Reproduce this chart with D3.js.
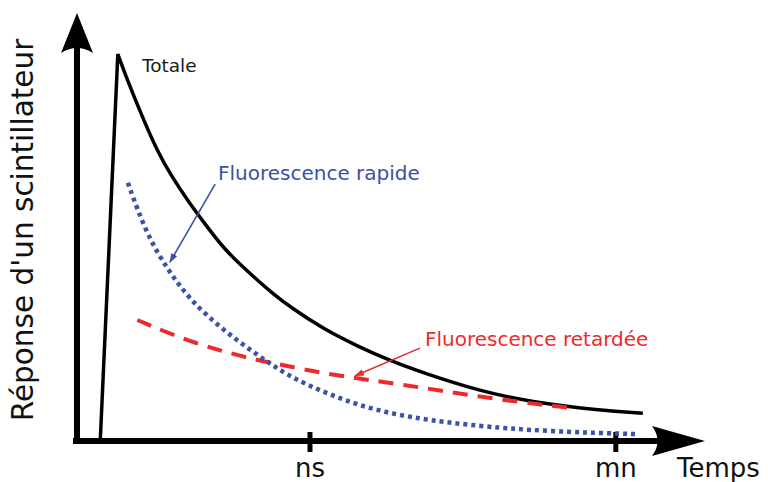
<!DOCTYPE html>
<html><head><meta charset="utf-8">
<script src="https://cdn.jsdelivr.net/npm/d3@7"></script>
<style>html,body{margin:0;padding:0;background:#fff;}svg{display:block;font-family:"DejaVu Sans",sans-serif;}</style>
</head><body><div id="chart"></div>
<script>
// Data (arbitrary units: time 0..100, response 0..100)
const totaleT = [3.7, 6.5, 8.4, 10.5, 12.7, 15.1, 17.7, 20.4, 23.2, 26.0, 28.7, 31.2, 33.9, 39.2, 44.6, 49.8, 55.1, 64.2, 72.1, 83.3, 90.1];
const totaleR = [0, 90.8, 83.3, 75.8, 68.3, 62.0, 56.3, 50.9, 45.5, 41.4, 37.8, 34.6, 31.5, 26.3, 22.3, 18.9, 16.0, 11.7, 9.2, 7.2, 6.5];
const rapideT = [8.1, 11.1, 14.5, 18.0, 23.2, 28.7, 33.9, 40.3, 47.1, 54.6, 61.0, 67.4, 72.1, 78.5, 83.3, 89.2];
const rapideR = [60.6, 48.4, 40.1, 33.1, 26.1, 20.2, 15.0, 10.8, 7.3, 5.2, 4.0, 3.1, 2.6, 2.1, 1.9, 1.6];
const retardT = [9.6, 18.0, 27.1, 31.2, 40.3, 51.4, 64.2, 76.9, 79.5];
const retardR = [28.4, 23.2, 19.5, 18.3, 15.5, 13.4, 10.3, 8.0, 7.7];
const tickValues = [37.1, 85.8];
const tickLabels = ["ns", "mn"];
const xTitle = "Temps";
const yTitle = "Réponse d'un scintillateur";
const labels = [
  {text: "Totale", t: 10.35, r: 86.6, cls: "tot"},
  {text: "Fluorescence rapide", t: 22.45, r: 61.3, cls: "rap"},
  {text: "Fluorescence retardée", t: 55.4, r: 22.3, cls: "ret"}
];
const pointers = [
  {t1: 22.0, r1: 60.3, t2: 14.8, r2: 42.0, cls: "rap"},
  {t1: 54.6, r1: 21.8, t2: 44.3, r2: 15.3, cls: "ret"}
];

const W = 768, H = 482;
const BLUE = "#3a52a8", BLUE_T = "#3c4fa6", RED = "#ec2a2c", BLACK = "#000";
const x = d3.scaleLinear().domain([0, 100]).range([77, 705]);
const y = d3.scaleLinear().domain([0, 100]).range([441, 15]);

const svg = d3.select("#chart").append("svg").attr("width", W).attr("height", H);
const defs = svg.append("defs");
[["rap", BLUE_T], ["ret", RED]].forEach(([id, c]) => {
  defs.append("marker").attr("id", "m-" + id).attr("viewBox", "0 0 10 10")
    .attr("refX", 9).attr("refY", 5).attr("markerWidth", 6).attr("markerHeight", 6)
    .attr("markerUnits", "strokeWidth").attr("orient", "auto")
    .append("path").attr("d", "M0,1.5L10,5L0,8.5Z").attr("fill", c);
});

// Axes
const xa = svg.append("g");
xa.append("line").attr("x1", x(0) - 4).attr("x2", x(100) - 12).attr("y1", y(0)).attr("y2", y(0))
  .attr("stroke", BLACK).attr("stroke-width", 6);
xa.append("path").attr("fill", BLACK)
  .attr("d", `M${x(100)},${y(0)} L${x(100) - 53},${y(0) - 15} Q${x(100) - 42},${y(0)} ${x(100) - 53},${y(0) + 15} Z`);
svg.append("line").attr("x1", x(0)).attr("x2", x(0)).attr("y1", y(0) + 3).attr("y2", y(100) + 30)
  .attr("stroke", BLACK).attr("stroke-width", 6);
svg.append("path").attr("fill", BLACK)
  .attr("d", `M${x(0)},${y(100) - 2} L${x(0) - 16},${y(100) + 38} Q${x(0)},${y(100) + 28} ${x(0) + 16},${y(100) + 38} Z`);

// ticks
const tg = svg.append("g").selectAll("g").data(tickValues).join("g")
  .attr("transform", d => `translate(${x(d)},${y(0)})`);
tg.append("line").attr("y1", -9).attr("y2", 11).attr("stroke", BLACK).attr("stroke-width", 5);
tg.append("text").attr("y", 36).attr("text-anchor", "middle").attr("font-size", 26)
  .attr("fill", "#111").text((d, i) => tickLabels[i]);

svg.append("text").attr("x", 677).attr("y", 477).attr("font-size", 26).attr("fill", "#111").text(xTitle);
svg.append("text").attr("transform", `translate(33,${y(50) + 2}) rotate(-90)`)
  .attr("text-anchor", "middle").attr("font-size", 29.5).attr("fill", "#111").text(yTitle);

// curves
const rise = d3.line().x(d => x(d[0])).y(d => y(d[1]));
const smooth = d3.line().x(d => x(d[0])).y(d => y(d[1])).curve(d3.curveBasis);
const tot = totaleT.map((t, i) => [t, totaleR[i]]);
const totPath = rise(tot.slice(0, 2)) + smooth(tot.slice(1)).replace(/^M/, "L");
svg.append("path").attr("d", totPath).attr("fill", "none").attr("stroke", BLACK)
  .attr("stroke-width", 3.5).attr("stroke-linejoin", "miter");

svg.append("path").attr("d", smooth(retardT.map((t, i) => [t, retardR[i]])))
  .attr("fill", "none").attr("stroke", RED).attr("stroke-width", 4).attr("stroke-dasharray", "15,10");
svg.append("path").attr("d", smooth(rapideT.map((t, i) => [t, rapideR[i]])))
  .attr("fill", "none").attr("stroke", BLUE).attr("stroke-width", 4.5).attr("stroke-dasharray", "4,4");

// pointers
svg.append("g").selectAll("line").data(pointers).join("line")
  .attr("x1", d => x(d.t1)).attr("y1", d => y(d.r1)).attr("x2", d => x(d.t2)).attr("y2", d => y(d.r2))
  .attr("stroke", d => d.cls === "rap" ? BLUE_T : RED).attr("stroke-width", 1.6)
  .attr("marker-end", d => `url(#m-${d.cls})`);

// labels
svg.append("g").selectAll("text").data(labels).join("text")
  .attr("x", d => x(d.t)).attr("y", d => y(d.r))
  .attr("font-size", d => d.cls === "tot" ? 18.5 : 20)
  .attr("fill", d => d.cls === "tot" ? "#1a1a1a" : d.cls === "rap" ? BLUE_T : RED)
  .text(d => d.text);
</script></body></html>
